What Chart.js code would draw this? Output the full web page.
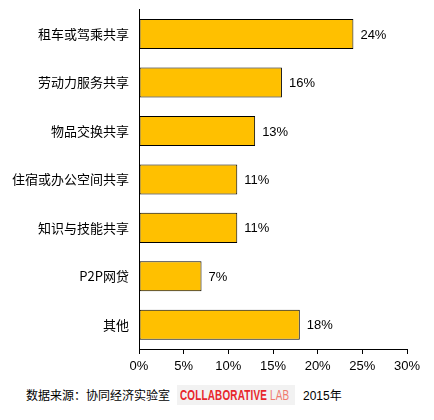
<!DOCTYPE html>
<html>
<head>
<meta charset="utf-8">
<script src="https://cdn.jsdelivr.net/npm/chart.js@4"></script>
<style>
  html, body { margin: 0; padding: 0; background: #fff; }
  #wrap { position: relative; width: 434px; height: 420px; }
  #chart { position: absolute; left: 0; top: 0; }
  .foot { position: absolute; top: 386px; font: 12px "Noto Sans CJK SC", sans-serif; color: #000; white-space: nowrap; line-height: 18px; }
  #src { left: 26px; }
  #lab { left: 177px; top: 385px; width: 118px; height: 20px; background: #f2f2f2; overflow: hidden; }
  #lab div { position: absolute; left: 3px; top: 1px; transform: scaleX(0.66); transform-origin: left center;
    font: bold 15px "Liberation Sans", Arial, sans-serif; color: #e8262b; letter-spacing: 0.3px; }
  #lab span { font-weight: normal; color: #f07a6e; }
  #yr { left: 303px; }
</style>
</head>
<body>
<div id="wrap">
  <canvas id="chart" width="434" height="380"></canvas>
  <div class="foot" id="src">数据来源：协同经济实验室</div>
  <div class="foot" id="lab"><div>COLLABORATIVE <span>LAB</span></div></div>
  <div class="foot" id="yr"><span style="font-family:'Liberation Sans',Arial,sans-serif">2015</span>年</div>
</div>
<script>
const categories = ['租车或驾乘共享', '劳动力服务共享', '物品交换共享', '住宿或办公空间共享', '知识与技能共享', 'P2P网贷', '其他'];
const shares = [24, 16, 13, 11, 11, 7, 18];
const xTicks = [0, 5, 10, 15, 20, 25, 30];

// 数值标签画在柱子右端
const valueLabels = {
  id: 'valueLabels',
  afterDatasetsDraw(chart) {
    const ctx = chart.ctx;
    const meta = chart.getDatasetMeta(0);
    ctx.save();
    ctx.font = '13px "Liberation Sans", Arial, sans-serif';
    ctx.fillStyle = '#000';
    ctx.textBaseline = 'middle';
    meta.data.forEach((bar, i) => {
      ctx.fillText(shares[i] + '%', bar.x + 7, bar.y + 1);
    });
    ctx.restore();
  }
};

new Chart(document.getElementById('chart'), {
  type: 'bar',
  data: {
    labels: categories,
    datasets: [{
      data: shares,
      backgroundColor: '#ffc000',
      borderColor: '#000',
      borderWidth: 1,
      borderSkipped: false,
      barPercentage: 0.62,
      categoryPercentage: 1
    }]
  },
  options: {
    indexAxis: 'y',
    responsive: false,
    animation: false,
    layout: { padding: { top: 1, right: 27, left: 0, bottom: 0 } },
    plugins: { legend: { display: false }, tooltip: { enabled: false } },
    scales: {
      x: {
        min: 0, max: 30,
        afterBuildTicks: s => { s.ticks = xTicks.map(v => ({ value: v })); },
        afterFit: s => { s.height = 31; },
        grid: { display: true, drawOnChartArea: false, drawTicks: true, tickLength: 5, color: '#000' },
        border: { color: '#000', width: 1 },
        ticks: { color: '#000', padding: 5, maxRotation: 0, font: { family: '"Liberation Sans", Arial, sans-serif', size: 13 },
                 callback: v => v + '%' }
      },
      y: {
        afterFit: s => { s.width = 139; },
        grid: { display: false },
        border: { display: true, color: '#000', width: 1 },
        ticks: { color: '#000', padding: 2, font: { family: '"Noto Sans CJK SC", sans-serif', size: 13 } }
      }
    }
  },
  plugins: [valueLabels]
});
</script>
</body>
</html>
